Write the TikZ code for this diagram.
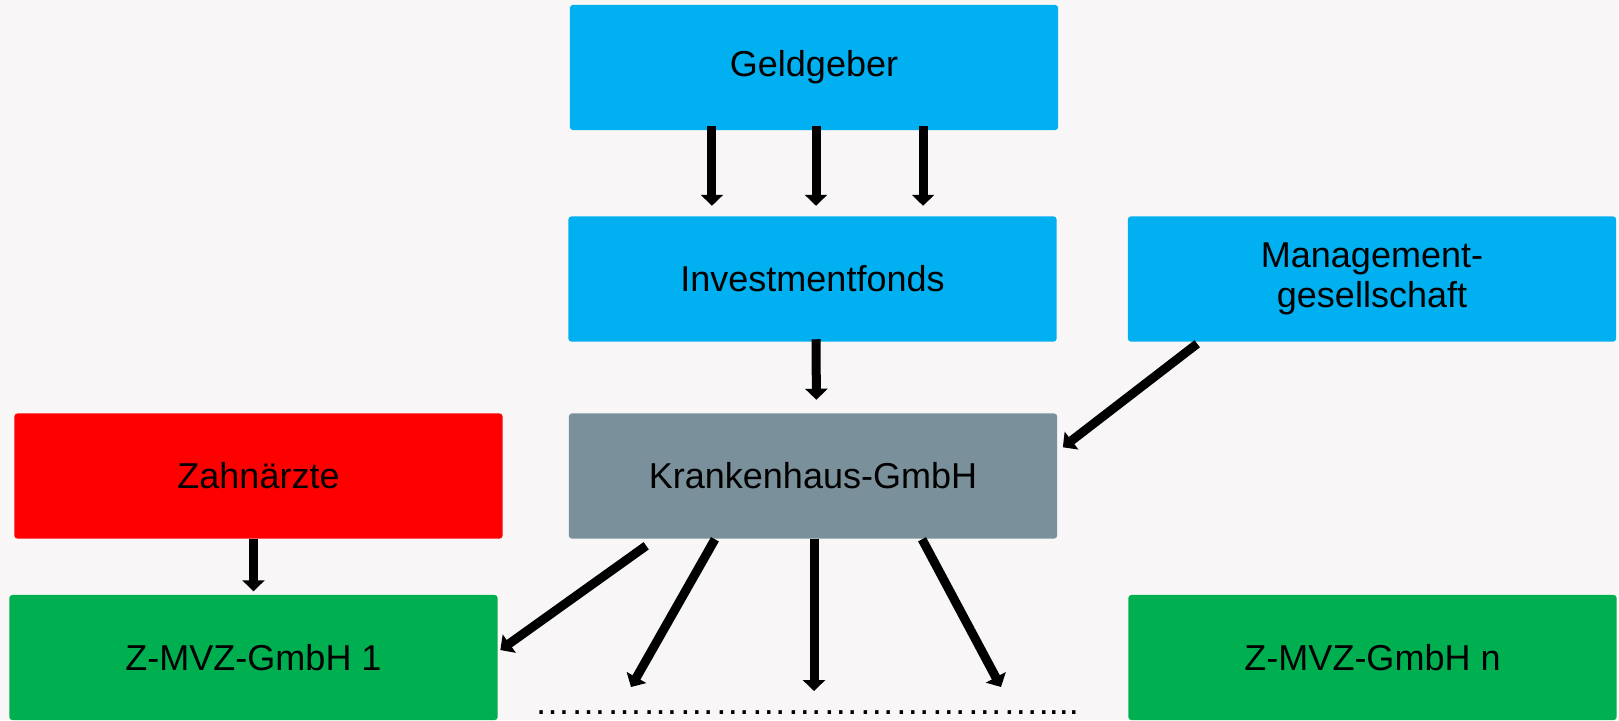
\documentclass[tikz,border=0pt]{standalone}
\usepackage{fontspec}
\setmainfont{Liberation Sans}
\usetikzlibrary{arrows.meta}
\definecolor{boxblue}{RGB}{0,176,240}
\definecolor{boxgrey}{RGB}{122,144,155}
\definecolor{boxred}{RGB}{255,0,0}
\definecolor{boxgreen}{RGB}{0,176,80}
\definecolor{pagegrey}{RGB}{248,246,247}
\newcommand\dotrow{\foreach \k in {1,...,14}{…}....}

\begin{document}
\begin{tikzpicture}[
  x=0.01cm, y=-0.01cm,
  box/.style={rectangle, rounded corners=0.03cm, minimum width=4.88cm,
              minimum height=1.25cm, inner sep=0pt, text=black,
              font=\fontsize{10.24}{11.4}\selectfont},
  bluebox/.style={box, fill=boxblue},
  greybox/.style={box, fill=boxgrey},
  redbox/.style={box, fill=boxred},
  greenbox/.style={box, fill=boxgreen},
  flowarrow/.style={-{Triangle[width=0.22cm, length=0.11cm]},
                    line width=0.09cm, black}
]
  \fill[pagegrey] (0,0) rectangle (1619,720);
  \useasboundingbox (0,0) rectangle (1619,720);

  \node[bluebox] (geld) at (814, 67.5) {Geldgeber};
  \node[bluebox] (invest) at (812.5, 279) {Investmentfonds};
  \node[bluebox, align=center] (mgmt) at (1372, 279) {Management-\\gesellschaft};
  \node[greybox] (kh) at (813, 476) {Krankenhaus-GmbH};
  \node[redbox] (zahn) at (258.5, 476) {Zahnärzte};
  \node[greenbox] (mvz1) at (253.5, 657.5) {Z-MVZ-GmbH 1};
  \node[greenbox] (mvzn) at (1372.5, 657.5) {Z-MVZ-GmbH n};

  \node[anchor=base west, inner sep=0pt, font=\fontsize{10.24}{11.4}\selectfont]
    (dots) at (534, 714) {\dotrow};

  % free ends below the Krankenhaus-GmbH
  \coordinate (end2) at (631, 687);
  \coordinate (end3) at (814, 691);
  \coordinate (end4) at (1001, 687);

  \foreach \dx in {-1.02cm, 0.02cm, 1.09cm} {
    \draw[flowarrow, shorten <=-0.05cm, shorten >=0.1cm]
      ([xshift=\dx]geld.south) -- ([xshift=\dx]geld.south |- invest.north);
  }
  \draw[flowarrow, shorten <=-0.03cm, shorten >=0.13cm]
    ([xshift=0.035cm]invest.south) -- ([xshift=0.035cm]kh.north);
  \draw[flowarrow]
    ([xshift=0.7cm, yshift=-0.015cm]mgmt.south west)
    -- ([xshift=0.05cm, yshift=-0.345cm]kh.north east);
  \draw[flowarrow, shorten >=0.03cm] (zahn.south -| mvz1.north) -- (mvz1.north);
  \draw[flowarrow]
    ([xshift=0.78cm, yshift=-0.065cm]kh.south west)
    -- ([xshift=0.02cm, yshift=0.075cm]mvz1.east);
  \draw[flowarrow] ([xshift=-0.98cm]kh.south) -- (end2);
  \draw[flowarrow] ([xshift=0.01cm]kh.south) -- (end3);
  \draw[flowarrow] ([xshift=1.09cm]kh.south) -- (end4);
\end{tikzpicture}
\end{document}
